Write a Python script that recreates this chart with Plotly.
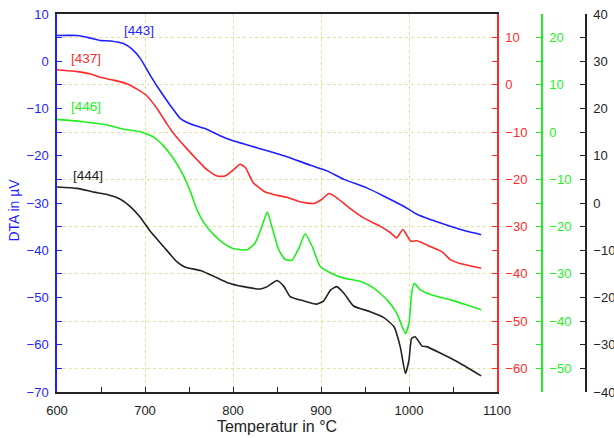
import plotly.graph_objects as go

# Temperature (°C) and DTA signal (µV) per sample, each in its own axis units
t443 = [600, 623, 638, 649, 661, 676, 685, 695, 706, 717, 729, 740, 752, 770, 786, 801, 827, 858, 888, 907, 926, 952, 971, 994, 1009, 1024, 1047, 1066, 1082]
v443 = [5.45, 5.45, 4.9, 4.4, 4.3, 3.7, 2.6, 0.5, -3.0, -6.2, -9.4, -12.1, -13.3, -14.4, -15.8, -16.9, -18.3, -20.0, -22.0, -23.2, -25.0, -26.8, -28.5, -30.7, -32.4, -33.5, -34.9, -36.0, -36.7]

t437 = [600, 623, 638, 649, 664, 680, 691, 702, 714, 725, 736, 748, 759, 770, 782, 791, 801, 808, 814, 823, 835, 846, 861, 877, 892, 901, 909, 918, 930, 948, 967, 979, 986, 993, 1002, 1009, 1024, 1038, 1047, 1058, 1082]
v437 = [3.2, 2.8, 2.3, 1.6, 1.0, 0.2, -0.9, -2.3, -5.1, -8.3, -11.1, -13.6, -15.8, -17.9, -19.3, -19.3, -17.9, -16.8, -17.5, -20.7, -22.5, -23.2, -23.8, -24.8, -25.1, -24.2, -23.0, -23.9, -25.7, -28.1, -29.9, -31.3, -32.4, -30.6, -33.1, -33.0, -34.2, -35.4, -37.0, -37.8, -38.8]

t446 = [600, 630, 657, 676, 695, 710, 721, 733, 744, 752, 759, 767, 778, 789, 801, 816, 825, 833, 839, 844, 852, 859, 867, 875, 882, 890, 899, 911, 926, 945, 960, 975, 986, 996, 1000, 1003, 1006, 1013, 1028, 1047, 1066, 1082]
v446 = [2.7, 2.2, 1.5, 0.6, 0.1, -1.1, -2.9, -5.8, -9.3, -12.8, -16.4, -19.2, -21.7, -23.5, -24.7, -24.9, -23.5, -19.9, -16.9, -19.9, -24.9, -26.9, -27.1, -24.5, -21.5, -24.2, -28.4, -29.8, -30.9, -31.6, -33.0, -35.5, -38.3, -42.6, -40.4, -34.1, -32.0, -33.4, -34.6, -35.5, -36.6, -37.6]

t444 = [600, 623, 642, 657, 672, 683, 695, 706, 721, 736, 746, 763, 778, 793, 812, 831, 839, 850, 858, 865, 880, 895, 903, 911, 918, 926, 937, 956, 971, 983, 990, 996, 1000, 1003, 1007, 1015, 1020, 1036, 1055, 1082]
v444 = [3.4, 3.1, 2.3, 1.8, 0.8, -0.7, -3.1, -6.0, -9.2, -12.4, -13.6, -14.3, -15.5, -16.8, -17.7, -18.2, -17.7, -16.4, -17.7, -19.8, -20.7, -21.4, -20.7, -18.4, -17.7, -19.1, -21.8, -23.0, -24.2, -26.2, -30.4, -36.1, -33.2, -28.6, -28.3, -30.3, -30.4, -31.8, -33.6, -36.6]

labels = ["[443]", "[437]", "[446]", "[444]"]
label_t = [693, 633, 633, 635]
label_v = [6.5, 0.6, -9.6, -24.2]  # on the left (blue) axis

x_ticks = [600, 700, 800, 900, 1000, 1100]

BLUE = "#1f1fff"
RED = "#ff2a2a"
GREEN = "#1ef01e"
BLACK = "#222222"
GRID = "#e2e29a"
FONT = "Liberation Sans, Arial, sans-serif"

fig = go.Figure()
line_kw = dict(shape="spline", smoothing=0.5, width=1.6)
fig.add_trace(go.Scatter(x=t443, y=v443, mode="lines", line=dict(color=BLUE, **line_kw), yaxis="y"))
fig.add_trace(go.Scatter(x=t437, y=v437, mode="lines", line=dict(color=RED, **line_kw), yaxis="y2"))
fig.add_trace(go.Scatter(x=t446, y=v446, mode="lines", line=dict(color=GREEN, **line_kw), yaxis="y3"))
fig.add_trace(go.Scatter(x=t444, y=v444, mode="lines", line=dict(color=BLACK, **line_kw), yaxis="y4"))

colors = [BLUE, RED, GREEN, BLACK]
for lab, lt, lv, c in zip(labels, label_t, label_v, colors):
    fig.add_annotation(x=lt, y=lv, xref="x", yref="y", text=lab, showarrow=False,
                       font=dict(color=c, size=13.5, family=FONT))

W, H = 614, 438
L, R, T, B = 57, 0, 14, 438 - 392
pw = W - L - R
xdom_end = (497 - L) / pw

# left axis title, placed as in the reference
fig.add_annotation(x=(14.5 - L) / pw, y=-31.5, xref="paper", yref="y", text="DTA in µV",
                   textangle=-90, showarrow=False, xanchor="center", yanchor="middle",
                   font=dict(color=BLUE, size=14, family=FONT))

def yax(color, rng, dtick, **kw):
    d = dict(range=rng, dtick=dtick, tick0=0, showline=True, linecolor=color, linewidth=1.5,
             ticks="inside", ticklen=5, tickwidth=1.2, tickcolor=color,
             tickfont=dict(color=color, size=13, family=FONT), zeroline=False, showgrid=False,
             minor=dict(dtick=5, tick0=0, ticks="inside", ticklen=5, tickcolor=color, tickwidth=1.2),
             ticklabelstandoff=4, ticklabeloverflow="allow",
             automargin=False, fixedrange=True)
    d.update(kw)
    return d

fig.update_layout(
    width=W, height=H,
    margin=dict(l=L, r=R, t=T, b=B),
    paper_bgcolor="white", plot_bgcolor="white",
    showlegend=False,
    font=dict(family=FONT, size=13, color=BLACK),
    xaxis=dict(range=[600, 1100], domain=[0, xdom_end], tickvals=x_ticks,
               showline=True, linecolor=BLACK, linewidth=1.5, mirror=True,
               ticks="inside", ticklen=5, tickcolor=BLACK, tickwidth=1.2,
               minor=dict(dtick=50, tick0=600, ticks="inside", ticklen=5, tickcolor=BLACK, tickwidth=1.2),
               showgrid=True, gridcolor=GRID, griddash="dot", gridwidth=1,
               zeroline=False, automargin=False, ticklabelstandoff=6, ticklabeloverflow="allow",
               fixedrange=True,
               tickfont=dict(size=13, color=BLACK, family=FONT),
               title=dict(text="Temperatur in °C", font=dict(size=16, color=BLACK, family=FONT), standoff=2)),
    yaxis=yax(BLUE, [-70, 10], 10),
    yaxis2=yax(RED, [-65, 15], 10, overlaying="y", side="right", anchor="x",
               showgrid=True, gridcolor=GRID, griddash="dot", gridwidth=1),
    yaxis3=yax(GREEN, [-55, 25], 10, overlaying="y", side="right", anchor="free",
               position=(542 - L) / pw),
    yaxis4=yax(BLACK, [-40, 40], 10, overlaying="y", side="right", anchor="free",
               position=(586 - L) / pw),
)

fig.write_html("out.html", config={"displayModeBar": False},
               post_script="document.body.style.margin='0';")
